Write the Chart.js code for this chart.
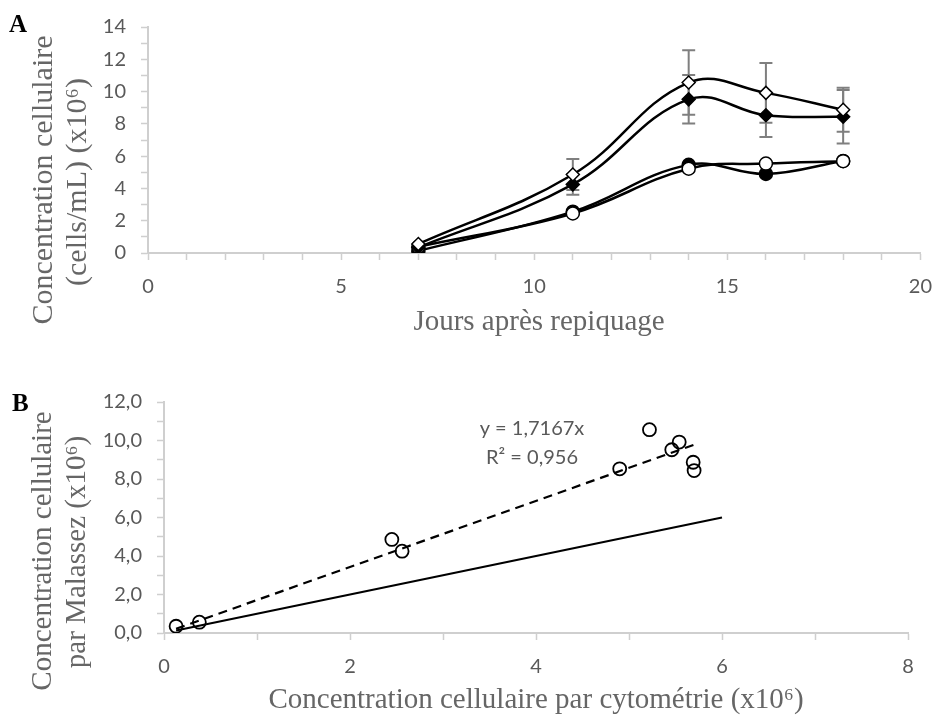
<!DOCTYPE html>
<html>
<head>
<meta charset="utf-8">
<script src="https://cdn.jsdelivr.net/npm/chart.js@4.4.1/dist/chart.umd.min.js"></script>
<style>
  html, body { margin: 0; padding: 0; background: #fff; }
  #wrap { position: relative; width: 947px; height: 718px; }
  canvas { position: absolute; left: 0; }
  #chartA { top: 0; }
  #chartB { top: 340px; }
</style>
</head>
<body>
<div id="wrap">
  <canvas id="chartA" width="947" height="340"></canvas>
  <canvas id="chartB" width="947" height="378"></canvas>
</div>
<script>
// jours de mesure
const days = [7, 11, 14, 16, 18];
// Malassez (losanges)
const malassezOpen = [0.56, 4.86, 10.56, 9.92, 8.87];
const malassezFilled = [0.35, 4.25, 9.52, 8.53, 8.44];
const errOpen = [0, 0.96, 2.0, 1.85, 1.36];
const errFilled = [0, 0.64, 1.5, 1.35, 1.65];
// cytométrie (cercles)
const cytoOpen = [0.38, 2.45, 5.22, 5.54, 5.69];
const cytoFilled = [0.13, 2.56, 5.46, 4.90, 5.70];
// droite de tendance et droite y = x (panneau B)
const trendX = [0.13, 5.70];
const trendY = [0.22, 9.78];
const identityX = [0.13, 6];
const identityY = [0.13, 6];
const trendLabel = ['y = 1,7167x', 'R² = 0,956'];

const tickFont = { family: 'Lato', size: 20 };
const tickColor = '#595959';
const axisGray = '#cfcfcf';
const titleColor = '#666666';

Chart.defaults.font.family = 'Lato';
Chart.defaults.devicePixelRatio = 1;

function pts(xs, ys) {
  return xs.map((x, i) => ({ x: x, y: ys[i] }));
}

// textes libres (titres d'axes, lettres de panneau)
const textLayer = {
  id: 'textLayer',
  afterDraw(chart, args, opts) {
    const ctx = chart.ctx;
    (opts.items || []).forEach(it => {
      ctx.save();
      ctx.fillStyle = it.color || titleColor;
      ctx.font = it.font;
      ctx.textAlign = it.align || 'center';
      ctx.textBaseline = it.baseline || 'middle';
      ctx.translate(it.x, it.y);
      if (it.rotate) ctx.rotate(it.rotate);
      ctx.fillText(it.text, 0, 0);
      ctx.restore();
    });
  }
};

// barres d'erreur
const errorBars = {
  id: 'errorBars',
  beforeDatasetsDraw(chart) {
    const ctx = chart.ctx;
    const xs = chart.scales.x, ys = chart.scales.y;
    chart.data.datasets.forEach(ds => {
      if (!ds.errors) return;
      ds.data.forEach((p, i) => {
        const e = ds.errors[i];
        if (!e) return;
        const px = xs.getPixelForValue(p.x);
        const top = ys.getPixelForValue(p.y + e);
        const bot = ys.getPixelForValue(p.y - e);
        ctx.save();
        ctx.strokeStyle = '#7f7f7f';
        ctx.lineWidth = 2;
        ctx.beginPath();
        ctx.moveTo(px, top); ctx.lineTo(px, bot);
        ctx.moveTo(px - 6.5, top); ctx.lineTo(px + 6.5, top);
        ctx.moveTo(px - 6.5, bot); ctx.lineTo(px + 6.5, bot);
        ctx.stroke();
        ctx.restore();
      });
    });
  }
};

function axis(min, max, labelFn, fit) {
  return {
    type: 'linear', min: min, max: max,
    afterFit: fit,
    grid: { drawOnChartArea: false, drawTicks: true, tickLength: 7, tickColor: axisGray, tickWidth: 1.5, color: axisGray },
    border: { display: true, color: axisGray, width: 2 },
    ticks: { stepSize: 1, autoSkip: false, maxRotation: 0, padding: 15, color: tickColor, font: tickFont, callback: labelFn }
  };
}

const lineStyle = { borderColor: '#000', borderWidth: 2.5, tension: 0.4, pointRadius: 6.5, pointBorderColor: '#000', pointBorderWidth: 1.5, showLine: true };

new Chart(document.getElementById('chartA'), {
  type: 'scatter',
  data: {
    datasets: [
      Object.assign({ label: 'Malassez ouvert', data: pts(days, malassezOpen), errors: errOpen, pointStyle: 'rectRot', pointBackgroundColor: '#fff' }, lineStyle),
      Object.assign({ label: 'Malassez plein', data: pts(days, malassezFilled), errors: errFilled, pointStyle: 'rectRot', pointBackgroundColor: '#000' }, lineStyle),
      Object.assign({ label: 'cyto ouvert', data: pts(days, cytoOpen), pointStyle: 'circle', pointBackgroundColor: '#fff' }, lineStyle),
      Object.assign({ label: 'cyto plein', data: pts(days, cytoFilled), pointStyle: 'circle', pointBackgroundColor: '#000' }, lineStyle)
    ]
  },
  options: {
    responsive: false,
    animation: false,
    layout: { padding: { left: 0, top: 24, right: 17, bottom: 0 } },
    plugins: {
      legend: { display: false },
      tooltip: { enabled: false },
      textLayer: {
        items: [
          { text: 'A', x: 9, y: 32, font: 'bold 25px "Liberation Serif"', color: '#000', align: 'left', baseline: 'alphabetic' },
          { text: 'Concentration cellulaire', x: 44, y: 180, rotate: -Math.PI / 2, font: '30px "Liberation Serif"' },
          { text: '(cells/mL) (x10⁶)', x: 78, y: 182, rotate: -Math.PI / 2, font: '30px "Liberation Serif"' },
          { text: 'Jours après repiquage', x: 539, y: 322, font: '29px "Liberation Serif"' }
        ]
      }
    },
    scales: {
      x: axis(0, 20, v => (v % 5 === 0 ? v : ''), s => { s.height = 87; }),
      y: axis(0, 14, v => (v % 2 === 0 ? v : ''), s => { s.width = 148; })
    }
  },
  plugins: [errorBars, textLayer]
});

const fr = v => v.toFixed(1).replace('.', ',');

new Chart(document.getElementById('chartB'), {
  type: 'scatter',
  data: {
    datasets: [
      { label: 'mesures', data: pts(cytoOpen.concat(cytoFilled), malassezOpen.concat(malassezFilled)),
        pointStyle: 'circle', pointRadius: 6.5, pointBorderWidth: 1.8, pointBorderColor: '#000', pointBackgroundColor: 'rgba(0,0,0,0)', showLine: false },
      { label: 'tendance', data: pts(trendX, trendY), showLine: true, borderColor: '#000', borderWidth: 2.2, borderDash: [9, 6], pointRadius: 0 },
      { label: 'y = x', data: pts(identityX, identityY), showLine: true, borderColor: '#000', borderWidth: 2.2, pointRadius: 0 }
    ]
  },
  options: {
    responsive: false,
    animation: false,
    layout: { padding: { left: 0, top: 62, right: 39, bottom: 0 } },
    plugins: {
      legend: { display: false },
      tooltip: { enabled: false },
      textLayer: {
        items: [
          { text: 'B', x: 12, y: 71, font: 'bold 25px "Liberation Serif"', color: '#000', align: 'left', baseline: 'alphabetic' },
          { text: 'Concentration cellulaire', x: 43, y: 211, rotate: -Math.PI / 2, font: '29px "Liberation Serif"' },
          { text: 'par Malassez (x10⁶)', x: 77, y: 212, rotate: -Math.PI / 2, font: '29px "Liberation Serif"' },
          { text: 'Concentration cellulaire par cytométrie (x10⁶)', x: 536, y: 360, font: '29px "Liberation Serif"' },
          { text: trendLabel[0], x: 532, y: 89, font: '20px Lato', color: tickColor },
          { text: trendLabel[1], x: 532, y: 118, font: '20px Lato', color: tickColor }
        ]
      }
    },
    scales: {
      x: axis(0, 8, v => (v % 2 === 0 ? v : ''), s => { s.height = 378 - 293; }),
      y: axis(0, 12, v => (v % 2 === 0 ? fr(v) : ''), s => { s.width = 164; })
    }
  },
  plugins: [textLayer]
});
</script>
</body>
</html>
